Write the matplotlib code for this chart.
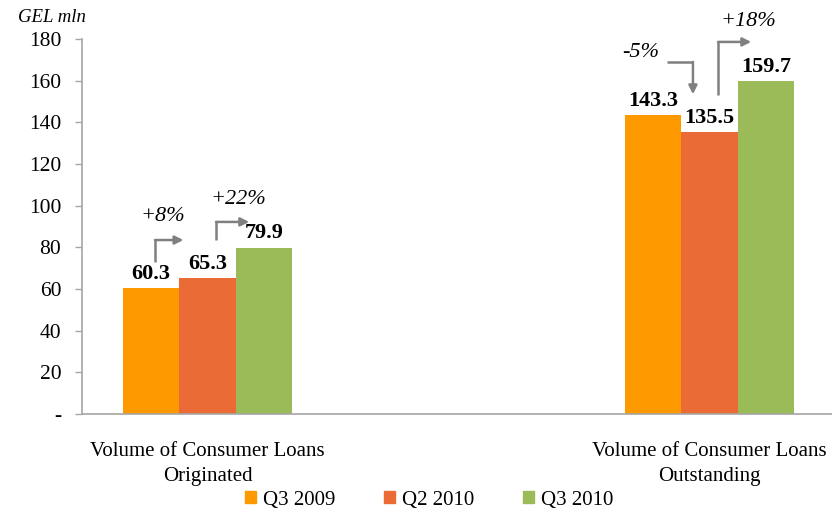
import matplotlib
matplotlib.use("Agg")
import matplotlib.pyplot as plt
import numpy as np

plt.rcParams['font.family'] = ['Liberation Serif', 'DejaVu Serif']

categories = ["Volume of Consumer Loans\nOriginated", "Volume of Consumer Loans\nOutstanding"]
series_names = ["Q3 2009", "Q2 2010", "Q3 2010"]
q3_2009 = [60.3, 143.3]
q2_2010 = [65.3, 135.5]
q3_2010 = [79.9, 159.7]
colors = ["#FF9900", "#EA6B35", "#9BBB59"]
yticks = [0, 20, 40, 60, 80, 100, 120, 140, 160, 180]
ytick_labels = ["-", "20", "40", "60", "80", "100", "120", "140", "160", "180"]

W, H = 832, 512
fig = plt.figure(figsize=(W / 100, H / 100), dpi=100)
ax = fig.add_axes([82 / W, 1 - 414 / H, 1 - 82 / W, (414 - 39) / H])

x = np.arange(len(categories))
bw = 0.1125
series = [q3_2009, q2_2010, q3_2010]
for i, (vals, c, name) in enumerate(zip(series, colors, series_names)):
    pos = x + (i - 1) * bw
    ax.bar(pos, vals, width=bw, color=c, label=name, zorder=2)
    for p, v in zip(pos, vals):
        ax.annotate(f"{v:.1f}", (p, v), xytext=(0, 3), textcoords="offset points",
                    ha="center", va="bottom", fontsize=16, fontweight="bold")

ax.set_xlim(-0.25, 1.244)
ax.set_ylim(0, 180)
ax.set_yticks(yticks)
ax.set_yticklabels(ytick_labels, fontsize=15.5)
ax.set_xticks([])
for s in ["top", "right"]:
    ax.spines[s].set_visible(False)
ax.spines["left"].set_color("#A6A6A6")
ax.spines["bottom"].set_color("#A6A6A6")
ax.spines["left"].set_linewidth(1.2)
ax.spines["bottom"].set_linewidth(1.2)
ax.tick_params(axis="y", colors="#A6A6A6", labelcolor="black", length=5, width=1, pad=10)

for xi, cat in zip(x, categories):
    ax.text(xi, -0.075, cat, transform=ax.get_xaxis_transform(), ha="center", va="top",
            fontsize=15, linespacing=1.4)

gray = "#808080"
def elbow(points, label, tpos):
    xs = [p[0] for p in points[:-1]]
    ys = [p[1] for p in points[:-1]]
    ax.plot(xs, ys, color=gray, lw=1.8, solid_capstyle="butt", clip_on=False, zorder=3)
    ax.annotate("", xy=points[-1], xytext=points[-2],
                arrowprops=dict(arrowstyle="-|>,head_length=0.5,head_width=0.25",
                                color=gray, lw=1.8, shrinkA=0, shrinkB=0),
                annotation_clip=False)
    ax.text(tpos[0], tpos[1], label, ha="center", va="center", fontsize=16,
            fontstyle="italic", clip_on=False)

elbow([(-0.1046, 73), (-0.1046, 83.5), (-0.048, 83.5)], "+8%", (-0.0886, 94.6))
elbow([(0.0169, 83.5), (0.0169, 92.2), (0.083, 92.2)], "+22%", (0.061, 103.2))
elbow([(0.9153, 169), (0.967, 169), (0.967, 153.5)], "-5%", (0.8636, 173.3))
elbow([(1.017, 153), (1.017, 178.6), (1.083, 178.6)], "+18%", (1.0767, 188.2))

fig.text(18 / W, 1 - 17 / H, "GEL mln", fontsize=13.5, fontstyle="italic", ha="left", va="center")

handles = [plt.Rectangle((0, 0), 1, 1, color=c) for c in colors]
fig.legend(handles, series_names, loc="center", bbox_to_anchor=(429 / W, 1 - 500 / H),
           ncol=3, frameon=False, fontsize=15, handlelength=0.55, handleheight=0.55,
           handletextpad=0.3, columnspacing=2.35, borderaxespad=0)

fig.savefig("out.png", dpi=100)
